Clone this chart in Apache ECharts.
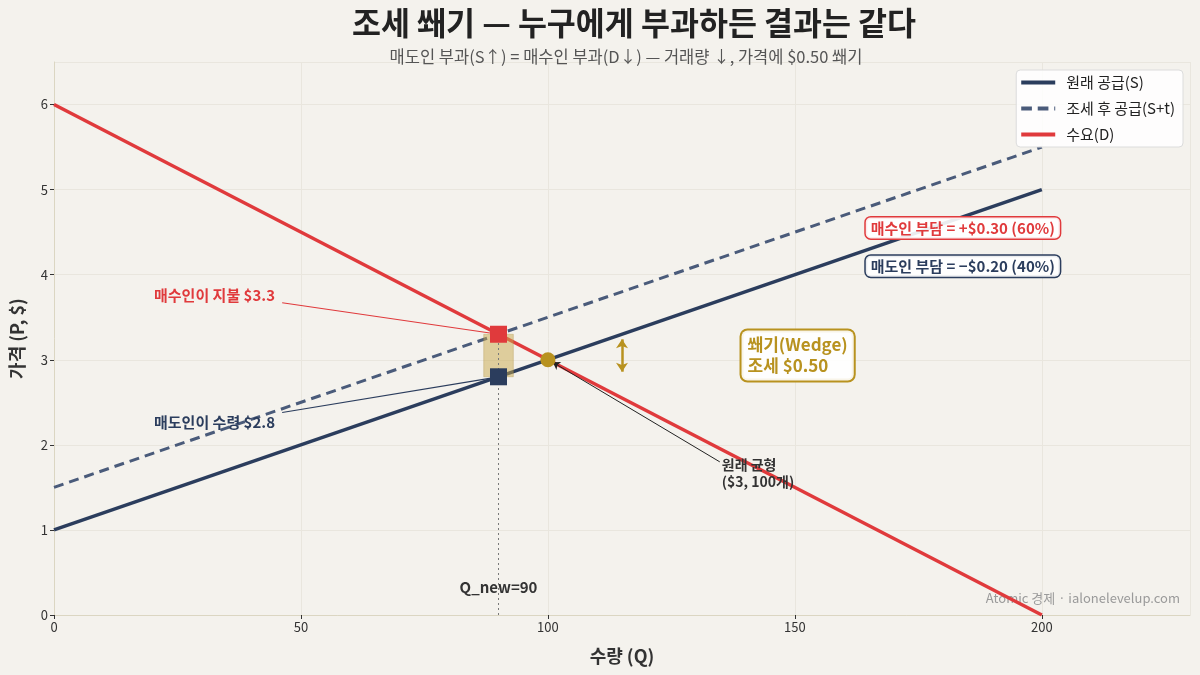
<!DOCTYPE html>
<html><head><meta charset="utf-8">
<script src="https://cdn.jsdelivr.net/npm/echarts@6/dist/echarts.min.js"></script>
<style>html,body{margin:0;padding:0;background:#f4f2ed;}#c{width:1200px;height:675px;}</style>
</head><body><div id="c"></div>
<script>
// ---- data ----
const qPoints = [0, 200];
const supplyP = [1, 5];
const supplyTaxP = [1.5, 5.5];
const demandP = [6, 0];
const eqQ = 100, eqP = 3;
const newQ = 90, buyerP = 3.3, sellerP = 2.8;
const wedgeHalfWidth = 3;
const xTicks = [0, 50, 100, 150, 200];
const yTicks = [0, 1, 2, 3, 4, 5, 6];
const seriesNames = ['원래 공급(S)', '조세 후 공급(S+t)', '수요(D)'];

const NAVY = '#2b3d5d', NAVY2 = '#4a5b7a', RED = '#e03a3c', GOLD = '#b8921f';
const FONT = '"Noto Sans CJK KR", "Noto Sans", sans-serif';
const pair = (xs, ys) => xs.map((x, i) => [x, ys[i]]);
const SOLID_ICON = 'path://M0,0h35v4h-35z';
const DASH_ICON = 'path://M0,0h11v4h-11z M17,0h11v4h-11z M34,0h1v4h-1z';

const chart = echarts.init(document.getElementById('c'));
chart.setOption({
  backgroundColor: '#f4f2ed',
  textStyle: { fontFamily: FONT },
  title: [
    { text: '조세 쐐기 — 누구에게 부과하든 결과는 같다', left: 629, top: 2, textAlign: 'center',
      textStyle: { fontSize: 31.5, fontWeight: 'bold', color: '#222', fontFamily: FONT } },
    { text: '매도인 부과(S↑) = 매수인 부과(D↓) — 거래량 ↓, 가격에 $0.50 쐐기', left: 621, top: 43, textAlign: 'center',
      textStyle: { fontSize: 16.5, fontWeight: 'normal', color: '#555', fontFamily: FONT } }
  ],
  grid: { left: 54, right: 10, top: 62, bottom: 60 },
  legend: {
    data: [
      { name: seriesNames[0], icon: SOLID_ICON },
      { name: seriesNames[1], icon: DASH_ICON },
      { name: seriesNames[2], icon: SOLID_ICON }
    ],
    orient: 'vertical', right: 17, top: 70,
    itemWidth: 34, itemHeight: 4, itemGap: 11,
    backgroundColor: 'rgba(255,255,255,0.85)', borderColor: '#dcdcdc', borderWidth: 1, borderRadius: 4,
    padding: [5, 8, 5, 5],
    textStyle: { fontSize: 15, color: '#222', fontFamily: FONT, padding: [0, 0, 0, 6] }
  },
  xAxis: {
    type: 'value', min: 0, max: 230, interval: 50,
    name: '수량 (Q)', nameLocation: 'middle', nameGap: 32,
    nameTextStyle: { fontSize: 18, fontWeight: 'bold', color: '#333', fontFamily: FONT },
    axisLine: { show: true, lineStyle: { color: '#dbd6c2' } },
    axisTick: { show: true, length: 4, lineStyle: { color: '#333' } },
    axisLabel: { fontSize: 13, color: '#333', showMaxLabel: false, margin: 6 },
    splitLine: { show: true, lineStyle: { color: '#e9e6de' } }
  },
  yAxis: {
    type: 'value', min: 0, max: 6.5, interval: 1,
    name: '가격 (P, $)', nameLocation: 'middle', nameGap: 28,
    nameTextStyle: { fontSize: 18, fontWeight: 'bold', color: '#333', fontFamily: FONT },
    axisLine: { show: true, lineStyle: { color: '#dbd6c2' } },
    axisTick: { show: true, length: 4, lineStyle: { color: '#333' } },
    axisLabel: { fontSize: 13, color: '#333', showMaxLabel: false, margin: 6 },
    splitLine: { show: true, lineStyle: { color: '#e9e6de' } }
  },
  series: [
    { name: seriesNames[0], type: 'line', data: pair(qPoints, supplyP), symbol: 'none', z: 3,
      lineStyle: { color: NAVY, width: 3.5 }, itemStyle: { color: NAVY } },
    { name: seriesNames[1], type: 'line', data: pair(qPoints, supplyTaxP), symbol: 'none', z: 3,
      lineStyle: { color: NAVY2, width: 3, type: [10, 6] }, itemStyle: { color: NAVY2 } },
    { name: seriesNames[2], type: 'line', data: pair(qPoints, demandP), symbol: 'none', z: 4,
      lineStyle: { color: RED, width: 3.5 }, itemStyle: { color: RED } },
    // wedge rectangle (above curves)
    { name: 'wedgeRect', type: 'custom', z: 5, silent: true,
      data: [[newQ - wedgeHalfWidth, newQ + wedgeHalfWidth, sellerP, buyerP]],
      renderItem: function (params, api) {
        const p0 = api.coord([api.value(0), api.value(3)]);
        const p1 = api.coord([api.value(1), api.value(2)]);
        return { type: 'rect', shape: { x: p0[0], y: p0[1], width: p1[0] - p0[0], height: p1[1] - p0[1] },
          style: { fill: 'rgba(200,168,75,0.5)', stroke: 'rgba(170,140,60,0.3)', lineWidth: 1 } };
      } },
    // dotted drop line
    { name: 'drop', type: 'line', data: [[newQ, 0], [newQ, buyerP]], symbol: 'none', z: 5,
      lineStyle: { color: '#777', width: 1, type: [2, 3] }, silent: true },
    // annotations layer
    { name: 'ann', type: 'line', data: [], symbol: 'none', z: 5, silent: true,
      markLine: { silent: true, symbol: ['none', 'none'], animation: false, label: { show: false },
        data: [
          [{ coord: [46.2, 3.67], lineStyle: { color: RED, width: 1.2, type: 'solid' } }, { coord: [newQ, buyerP] }],
          [{ coord: [46.2, 2.38], lineStyle: { color: NAVY, width: 1.2, type: 'solid' } }, { coord: [newQ, sellerP] }],
          [{ coord: [134.8, 1.8], symbol: 'none', lineStyle: { color: '#222', width: 1, type: 'solid' } },
           { coord: [eqQ + 1, eqP - 0.03], symbol: 'arrow', symbolSize: 7 }],
          [{ coord: [115, 2.86], symbol: 'arrow', symbolSize: 9, lineStyle: { color: GOLD, width: 2.5, type: 'solid' } },
           { coord: [115, 3.24], symbol: 'arrow', symbolSize: 9 }]
        ] },
      markPoint: { silent: true, symbolSize: 0, animation: false,
        data: [
          { coord: [newQ, 0.32], label: { show: true, formatter: 'Q_new=90', fontSize: 15, fontWeight: 'bold', color: '#333',
              backgroundColor: '#f4f2ed', padding: [2, 2] } },
          { coord: [32.5, 3.76], label: { show: true, formatter: '매수인이 지불 $3.3', fontSize: 15, fontWeight: 'bold', color: RED } },
          { coord: [32.5, 2.27], label: { show: true, formatter: '매도인이 수령 $2.8', fontSize: 15, fontWeight: 'bold', color: NAVY } },
          { coord: [135.2, 1.67], label: { show: true, position: 'right', distance: 0, formatter: '원래 균형\n($3, 100개)',
              fontSize: 14, fontWeight: 'bold', color: '#333', lineHeight: 17, align: 'left' } },
          { coord: [139.2, 3.05], label: { show: true, formatter: '쐐기(Wedge)\n조세 $0.50', fontSize: 17, fontWeight: 'bold', color: GOLD,
              align: 'left', lineHeight: 21, backgroundColor: 'rgba(255,255,255,0.9)', borderColor: GOLD, borderWidth: 2,
              borderRadius: 6, padding: [4, 6] } },
          { coord: [184.0, 4.55], label: { show: true, formatter: '매수인 부담 = +$0.30 (60%)', fontSize: 15, fontWeight: 'bold', color: RED,
              backgroundColor: 'rgba(255,255,255,0.9)', borderColor: RED, borderWidth: 1.5, borderRadius: 5, padding: [3, 5] } },
          { coord: [184.0, 4.1], label: { show: true, formatter: '매도인 부담 = −$0.20 (40%)', fontSize: 15, fontWeight: 'bold', color: NAVY,
              backgroundColor: 'rgba(255,255,255,0.9)', borderColor: NAVY, borderWidth: 1.5, borderRadius: 5, padding: [3, 5] } }
        ] } },
    { name: 'buyer', type: 'scatter', data: [[newQ, buyerP]], symbol: 'rect', symbolSize: 17, z: 6, itemStyle: { color: RED, opacity: 1 } },
    { name: 'seller', type: 'scatter', data: [[newQ, sellerP]], symbol: 'rect', symbolSize: 17, z: 6, itemStyle: { color: NAVY, opacity: 1 } },
    { name: 'eq', type: 'scatter', data: [[eqQ, eqP]], symbol: 'circle', symbolSize: 15, z: 6, itemStyle: { color: GOLD, opacity: 1 } }
  ],
  graphic: [
    { type: 'text', right: 20, top: 592, style: { text: 'Atomic 경제 · ialonelevelup.com', fontSize: 13, fill: '#9a9a9a', fontFamily: FONT } }
  ]
});
</script></body></html>
